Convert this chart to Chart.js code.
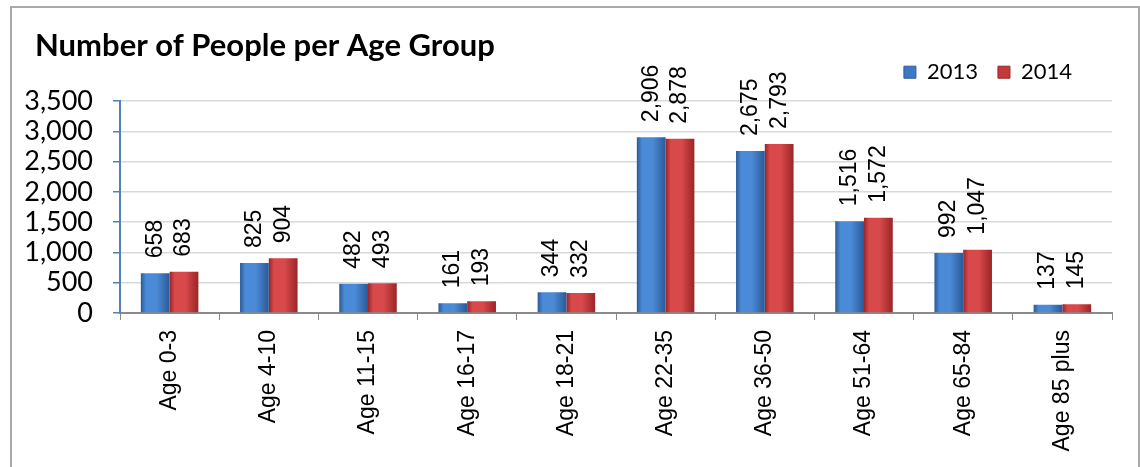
<!DOCTYPE html>
<html>
<head>
<meta charset="utf-8">
<script src="https://cdn.jsdelivr.net/npm/chart.js@4.4.1/dist/chart.umd.min.js"></script>
<style>
  html, body { margin: 0; padding: 0; background: #fff; overflow: hidden; }
  #wrap { position: relative; width: 1140px; height: 467px; overflow: hidden; }
  #frame { position: absolute; left: 10px; top: 6px; width: 1126px; height: 480px; border: 2px solid #a9a9a9; pointer-events: none; }
  canvas { position: absolute; left: 0; top: 0; }
</style>
</head>
<body>
<div id="wrap">
  <canvas id="c" width="1140" height="467"></canvas>
  <div id="frame"></div>
</div>
<script>
const categories = ["Age 0-3", "Age 4-10", "Age 11-15", "Age 16-17", "Age 18-21", "Age 22-35", "Age 36-50", "Age 51-64", "Age 65-84", "Age 85 plus"];
const values2013 = [658, 825, 482, 161, 344, 2906, 2675, 1516, 992, 137];
const values2014 = [683, 904, 493, 193, 332, 2878, 2793, 1572, 1047, 145];
const seriesNames = ["2013", "2014"];
const yTicks = [0, 500, 1000, 1500, 2000, 2500, 3000, 3500];

const CAT_PCT = 0.58;
const palette = [
  { edge: "#2a5a98", mid: "#4b8ad6", solid: "#3c78c4" },
  { edge: "#9a2527", mid: "#d8494b", solid: "#c43a3c" }
];

function barGradient(ctx) {
  const chart = ctx.chart;
  const xs = chart.scales.x;
  const p = palette[ctx.datasetIndex];
  if (!xs || ctx.dataIndex === undefined || !chart.chartArea) return p.solid;
  const center = xs.getPixelForValue(ctx.dataIndex);
  const catW = xs.width / categories.length;
  const bw = catW * CAT_PCT / 2;
  const x0 = ctx.datasetIndex === 0 ? center - bw : center;
  const x1 = x0 + bw;
  const g = chart.ctx.createLinearGradient(x0, 0, x1, 0);
  g.addColorStop(0, p.edge);
  g.addColorStop(0.18, p.mid);
  g.addColorStop(0.55, p.mid);
  g.addColorStop(1, p.edge);
  return g;
}

const valueLabels = {
  id: "valueLabels",
  afterDatasetsDraw(chart) {
    const c = chart.ctx;
    c.save();
    c.font = "23px 'Liberation Sans', Arial, sans-serif";
    c.fillStyle = "#000";
    c.textAlign = "left";
    c.textBaseline = "middle";
    chart.data.datasets.forEach((ds, di) => {
      const meta = chart.getDatasetMeta(di);
      meta.data.forEach((el, i) => {
        c.save();
        c.translate(el.x, el.y - 15);
        c.rotate(-Math.PI / 2);
        c.fillText(ds.data[i].toLocaleString("en-US"), 0, 0);
        c.restore();
      });
    });
    c.restore();
  }
};

const boxShift = {
  id: "boxShift",
  afterLayout(chart) {
    const t = chart.titleBlock;
    if (t) { t.left += 35; t.right += 35; }
    const lg = chart.legend;
    if (lg) { lg.right -= 20; lg.left -= 20; lg.top -= 8; lg.bottom -= 8; }
  }
};

new Chart(document.getElementById("c"), {
  type: "bar",
  data: {
    labels: categories,
    datasets: [
      { label: seriesNames[0], data: values2013, backgroundColor: barGradient, categoryPercentage: CAT_PCT, barPercentage: 1.0 },
      { label: seriesNames[1], data: values2014, backgroundColor: barGradient, categoryPercentage: CAT_PCT, barPercentage: 1.0 }
    ]
  },
  options: {
    responsive: false,
    animation: false,
    layout: { padding: { left: 0, right: 28, top: 0, bottom: 10 } },
    plugins: {
      title: {
        display: true,
        text: "Number of People per Age Group",
        align: "start",
        color: "#000",
        font: { family: "Lato", size: 31, weight: "bold", lineHeight: 1.2 },
        padding: { top: 27, bottom: -15 }
      },
      legend: {
        display: true,
        position: "top",
        align: "end",
        labels: {
          color: "#000",
          font: { family: "Lato", size: 22 },
          boxWidth: 12,
          boxHeight: 12,
          padding: 20,
          generateLabels(chart) {
            return chart.data.datasets.map((ds, i) => ({
              text: ds.label,
              fillStyle: palette[i].solid,
              strokeStyle: palette[i].edge,
              lineWidth: 1,
              datasetIndex: i
            }));
          }
        }
      },
      tooltip: { enabled: false }
    },
    scales: {
      x: {
        offset: true,
        grid: { display: true, drawOnChartArea: false, drawTicks: true, tickLength: 7, tickColor: "#8a8a8a", offset: true },
        border: { display: true, color: "#8a8a8a", width: 2 },
        ticks: { color: "#000", font: { family: "'Liberation Sans', Arial", size: 23 }, minRotation: 90, maxRotation: 90, padding: 10, autoSkip: false },
        afterFit(scale) { scale.height = 144; }
      },
      y: {
        min: 0,
        max: 3500,
        afterBuildTicks(scale) { scale.ticks = yTicks.map(v => ({ value: v })); },
        grid: { color: "#d9d9d9", lineWidth: 1.5, tickLength: 7, tickColor: "#4f81bd" },
        border: { display: true, color: "#4f81bd", width: 2 },
        ticks: { color: "#000", font: { family: "Lato", size: 27 }, padding: 20, autoSkip: false, stepSize: 500, callback: v => Number(v).toLocaleString("en-US") },
        afterFit(scale) { scale.width = 120; }
      }
    }
  },
  plugins: [valueLabels, boxShift]
});
</script>
</body>
</html>
